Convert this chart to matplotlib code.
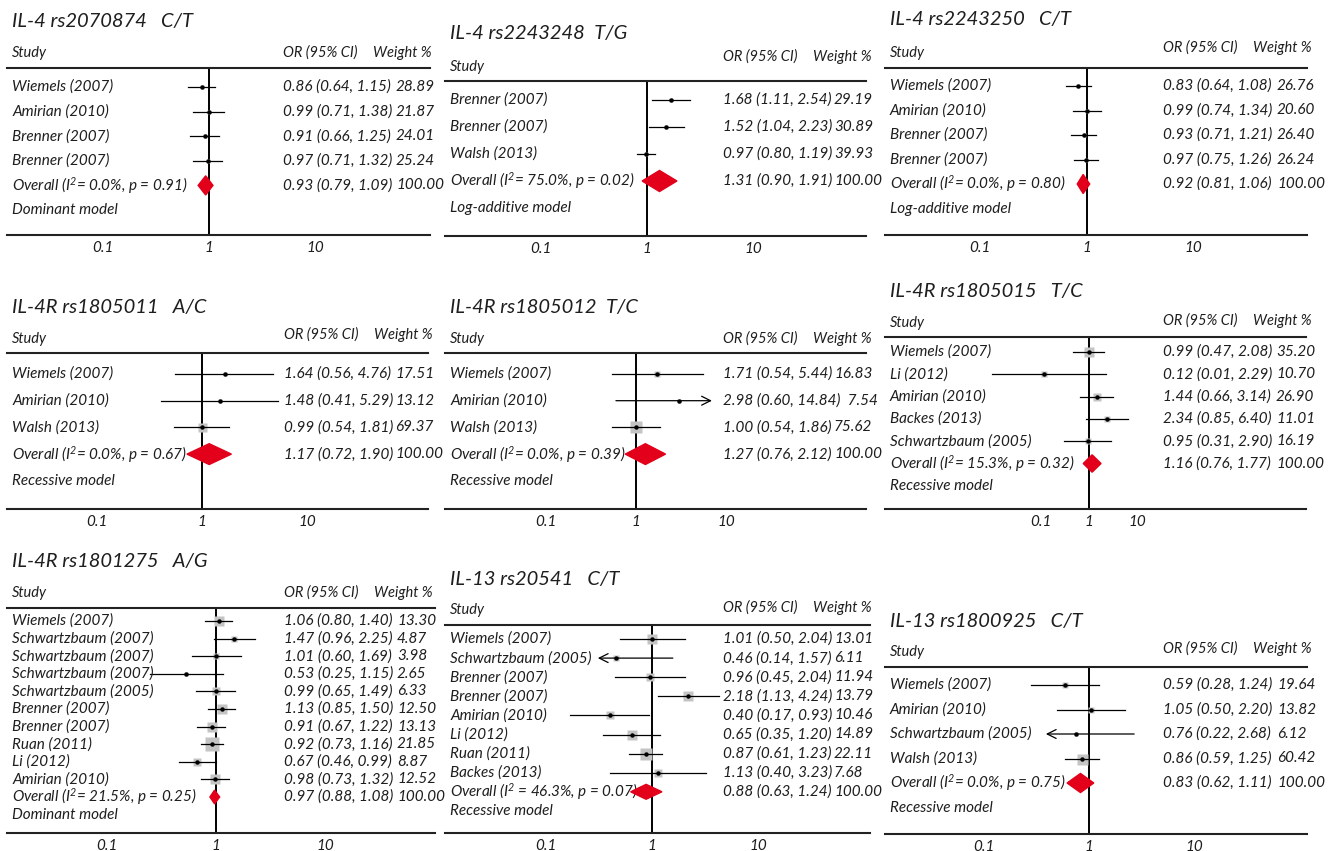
import matplotlib.pyplot as plt
from matplotlib.patches import Polygon
from matplotlib.ticker import NullLocator
from matplotlib.transforms import blended_transform_factory

plt.rcParams['font.family'] = 'Lato'
plt.rcParams['font.style'] = 'italic'
plt.rcParams['mathtext.fontset'] = 'custom'
plt.rcParams['mathtext.rm'] = 'Lato:italic'
plt.rcParams['mathtext.it'] = 'Lato:italic'

# ---- data: one block per SNP ----
a_title = 'IL-4 rs2070874   C/T'
a_study = ['Wiemels (2007)', 'Amirian (2010)', 'Brenner (2007)', 'Brenner (2007)']
a_or = [0.86, 0.99, 0.91, 0.97]
a_lo = [0.64, 0.71, 0.66, 0.71]
a_hi = [1.15, 1.38, 1.25, 1.32]
a_wt = [28.89, 21.87, 24.01, 25.24]
a_overall = [0.93, 0.79, 1.09]
a_het = ['0.0%', '0.91']
a_model = 'Dominant model'

b_title = 'IL-4 rs2243248  T/G'
b_study = ['Brenner (2007)', 'Brenner (2007)', 'Walsh (2013)']
b_or = [1.68, 1.52, 0.97]
b_lo = [1.11, 1.04, 0.80]
b_hi = [2.54, 2.23, 1.19]
b_wt = [29.19, 30.89, 39.93]
b_overall = [1.31, 0.90, 1.91]
b_het = ['75.0%', '0.02']
b_model = 'Log-additive model'

c_title = 'IL-4 rs2243250   C/T'
c_study = ['Wiemels (2007)', 'Amirian (2010)', 'Brenner (2007)', 'Brenner (2007)']
c_or = [0.83, 0.99, 0.93, 0.97]
c_lo = [0.64, 0.74, 0.71, 0.75]
c_hi = [1.08, 1.34, 1.21, 1.26]
c_wt = [26.76, 20.60, 26.40, 26.24]
c_overall = [0.92, 0.81, 1.06]
c_het = ['0.0%', '0.80']
c_model = 'Log-additive model'

d_title = 'IL-4R rs1805011   A/C'
d_study = ['Wiemels (2007)', 'Amirian (2010)', 'Walsh (2013)']
d_or = [1.64, 1.48, 0.99]
d_lo = [0.56, 0.41, 0.54]
d_hi = [4.76, 5.29, 1.81]
d_wt = [17.51, 13.12, 69.37]
d_overall = [1.17, 0.72, 1.90]
d_het = ['0.0%', '0.67']
d_model = 'Recessive model'

e_title = 'IL-4R rs1805012  T/C'
e_study = ['Wiemels (2007)', 'Amirian (2010)', 'Walsh (2013)']
e_or = [1.71, 2.98, 1.00]
e_lo = [0.54, 0.60, 0.54]
e_hi = [5.44, 14.84, 1.86]
e_wt = [16.83, 7.54, 75.62]
e_overall = [1.27, 0.76, 2.12]
e_het = ['0.0%', '0.39']
e_model = 'Recessive model'

f_title = 'IL-4R rs1805015   T/C'
f_study = ['Wiemels (2007)', 'Li (2012)', 'Amirian (2010)', 'Backes (2013)',
           'Schwartzbaum (2005)']
f_or = [0.99, 0.12, 1.44, 2.34, 0.95]
f_lo = [0.47, 0.01, 0.66, 0.85, 0.31]
f_hi = [2.08, 2.29, 3.14, 6.40, 2.90]
f_wt = [35.20, 10.70, 26.90, 11.01, 16.19]
f_overall = [1.16, 0.76, 1.77]
f_het = ['15.3%', '0.32']
f_model = 'Recessive model'

g_title = 'IL-4R rs1801275   A/G'
g_study = ['Wiemels (2007)', 'Schwartzbaum (2007)', 'Schwartzbaum (2007)',
           'Schwartzbaum (2007)', 'Schwartzbaum (2005)', 'Brenner (2007)',
           'Brenner (2007)', 'Ruan (2011)', 'Li (2012)', 'Amirian (2010)']
g_or = [1.06, 1.47, 1.01, 0.53, 0.99, 1.13, 0.91, 0.92, 0.67, 0.98]
g_lo = [0.80, 0.96, 0.60, 0.25, 0.65, 0.85, 0.67, 0.73, 0.46, 0.73]
g_hi = [1.40, 2.25, 1.69, 1.15, 1.49, 1.50, 1.22, 1.16, 0.99, 1.32]
g_wt = [13.30, 4.87, 3.98, 2.65, 6.33, 12.50, 13.13, 21.85, 8.87, 12.52]
g_overall = [0.97, 0.88, 1.08]
g_het = ['21.5%', '0.25']
g_model = 'Dominant model'

h_title = 'IL-13 rs20541   C/T'
h_study = ['Wiemels (2007)', 'Schwartzbaum (2005)', 'Brenner (2007)',
           'Brenner (2007)', 'Amirian (2010)', 'Li (2012)', 'Ruan (2011)',
           'Backes (2013)']
h_or = [1.01, 0.46, 0.96, 2.18, 0.40, 0.65, 0.87, 1.13]
h_lo = [0.50, 0.14, 0.45, 1.13, 0.17, 0.35, 0.61, 0.40]
h_hi = [2.04, 1.57, 2.04, 4.24, 0.93, 1.20, 1.23, 3.23]
h_wt = [13.01, 6.11, 11.94, 13.79, 10.46, 14.89, 22.11, 7.68]
h_overall = [0.88, 0.63, 1.24]
h_het = ['46.3%', '0.07']
h_model = 'Recessive model'

i_title = 'IL-13 rs1800925   C/T'
i_study = ['Wiemels (2007)', 'Amirian (2010)', 'Schwartzbaum (2005)', 'Walsh (2013)']
i_or = [0.59, 1.05, 0.76, 0.86]
i_lo = [0.28, 0.50, 0.22, 0.59]
i_hi = [1.24, 2.20, 2.68, 1.25]
i_wt = [19.64, 13.82, 6.12, 60.42]
i_overall = [0.83, 0.62, 1.11]
i_het = ['0.0%', '0.75']
i_model = 'Recessive model'

panels = [
    (a_title, a_study, a_or, a_lo, a_hi, a_wt, a_overall, a_het, a_model),
    (b_title, b_study, b_or, b_lo, b_hi, b_wt, b_overall, b_het, b_model),
    (c_title, c_study, c_or, c_lo, c_hi, c_wt, c_overall, c_het, c_model),
    (d_title, d_study, d_or, d_lo, d_hi, d_wt, d_overall, d_het, d_model),
    (e_title, e_study, e_or, e_lo, e_hi, e_wt, e_overall, e_het, e_model),
    (f_title, f_study, f_or, f_lo, f_hi, f_wt, f_overall, f_het, f_model),
    (g_title, g_study, g_or, g_lo, g_hi, g_wt, g_overall, g_het, g_model),
    (h_title, h_study, h_or, h_lo, h_hi, h_wt, h_overall, h_het, h_model),
    (i_title, i_study, i_or, i_lo, i_hi, i_wt, i_overall, i_het, i_model),
]

# ---- layout (pixels) ----
# xl, xr, title_y, study_y, orhead_y, top, first, step, bottom, x_one, decade, sq
layouts = [
    (7, 430, 22, 53, 53, 68, 87, 24.6, 235, 209, 106, 4),
    (445, 866, 33, 67, 57, 81, 100, 27.0, 236, 647, 106.5, 4),
    (885, 1307, 20, 53, 48, 68, 86, 24.5, 235, 1087, 106.7, 4),
    (7, 428, 307, 339, 335, 353, 374, 26.7, 509, 202, 105.5, 9),
    (445, 866, 307, 339, 339, 353, 374, 26.7, 509, 636, 90.5, 12),
    (885, 1306, 292, 323, 321, 337, 352, 22.3, 509, 1089, 48.5, 10),
    (7, 435, 562, 593, 593, 608, 621, 17.6, 833, 216, 109.5, 14),
    (445, 870, 580, 610, 608, 625, 639, 19.1, 833, 652, 106.5, 12),
    (885, 1307, 622, 652, 649, 667, 685, 24.5, 834, 1089, 105.5, 11),
]
or_xs = [283, 723, 1163, 284, 723, 1163, 284, 723, 1163]
wt_xs = [396, 834, 1277, 395, 834, 1276, 397, 834, 1277]
# display limits where a CI runs off the plot (panel, row) -> limit
clips = {(4, 1): 6.9, (7, 1): 0.31, (8, 2): 0.39}

W, H = 1335, 851
TXT = '#1e1e1e'
fig = plt.figure(figsize=(W / 100, H / 100), dpi=100)

for k, (pan, lay) in enumerate(zip(panels, layouts)):
    title, study, ors, los, his, wts, overall, het, model = pan
    xl, xr, ty, sy, oy, top, first, step, bottom, x_one, dec, sq = lay
    ax = fig.add_axes([xl / W, 1 - bottom / H, (xr - xl) / W, (bottom - top) / H])
    ax.set_xscale('log')
    ax.set_xlim(10 ** ((xl - x_one) / dec), 10 ** ((xr - x_one) / dec))
    ax.set_ylim((bottom - first) / step, (top - first) / step)
    tr = blended_transform_factory(ax.transAxes, ax.transData)

    def fx(px):
        return (px - xl) / (xr - xl)

    def ry(py):
        return (py - first) / step

    ax.axvline(1, color='black', lw=1.4, zorder=2)
    wmax = max(wts)
    n = len(study)
    for r in range(n):
        lo, hi = los[r], his[r]
        if (k, r) in clips:
            lim = clips[(k, r)]
            start = lo if lim > ors[r] else hi
            ax.annotate('', xy=(lim, r), xytext=(start, r),
                        arrowprops=dict(arrowstyle='->', color='black', lw=0.9,
                                        shrinkA=0, shrinkB=0, mutation_scale=16))
        else:
            ax.plot([lo, hi], [r, r], color='black', lw=0.9, zorder=3)
        ax.plot(ors[r], r, marker='s', ms=sq * (wts[r] / wmax) ** 0.5 * 0.72,
                color='#c4c4c4', mec='none', zorder=2.5)
        ax.plot(ors[r], r, marker='o', ms=3.2, color='black', mec='none', zorder=4)
        ax.text(fx(xl + 5), r, study[r], transform=tr, ha='left', va='center',
                fontsize=11, color=TXT)
        or_str = f'{ors[r]:.2f} ({lo:.2f}, {hi:.2f})'
        if len(or_str) > 17:
            or_str = f'{or_str}  {wts[r]:.2f}'
        else:
            ax.text(fx(wt_xs[k]), r, f'{wts[r]:.2f}', transform=tr, ha='left',
                    va='center', fontsize=11, color=TXT)
        ax.text(fx(or_xs[k]), r, or_str, transform=tr,
                ha='left', va='center', fontsize=11, color=TXT)

    # pooled estimate
    o, lo, hi = overall
    hh = 0.39
    ax.add_patch(Polygon([(lo, n), (o, n - hh), (hi, n), (o, n + hh)],
                         closed=True, color='#e2001a', zorder=5))
    eq = '= ' if k != 7 else ' = '
    ax.text(fx(xl + 5), n, f'Overall (I$^{{2}}${eq}{het[0]}, p = {het[1]})',
            transform=tr, ha='left', va='center', fontsize=11, color=TXT)
    ax.text(fx(or_xs[k]), n, f'{o:.2f} ({lo:.2f}, {hi:.2f})', transform=tr,
            ha='left', va='center', fontsize=11, color=TXT)
    ax.text(fx(wt_xs[k]), n, '100.00', transform=tr, ha='left', va='center',
            fontsize=11, color=TXT)
    ax.text(fx(xl + 5), n + 1, model, transform=tr, ha='left', va='center',
            fontsize=11, color=TXT)

    # headers
    ax.text(fx(xl + 5), ry(ty), title, transform=tr, ha='left', va='center',
            fontsize=14.5, color=TXT)
    ax.text(fx(xl + 5), ry(sy), 'Study', transform=tr, ha='left', va='center',
            fontsize=10.5, color=TXT)
    ax.text(fx(or_xs[k]), ry(oy), 'OR (95% CI)', transform=tr, ha='left',
            va='center', fontsize=10.5, color=TXT)
    ax.text(fx(or_xs[k] + 90), ry(oy), 'Weight %', transform=tr, ha='left',
            va='center', fontsize=10.5, color=TXT)

    for side in ['left', 'right']:
        ax.spines[side].set_visible(False)
    for side in ['top', 'bottom']:
        ax.spines[side].set_color('#222222')
        ax.spines[side].set_linewidth(1.5)
    ax.set_yticks([])
    ax.set_xticks([0.1, 1, 10], labels=['0.1', '1', '10'])
    ax.xaxis.set_minor_locator(NullLocator())
    ax.tick_params(axis='x', length=0, pad=4, labelsize=11, labelcolor=TXT)

fig.savefig('out.png', dpi=100)
